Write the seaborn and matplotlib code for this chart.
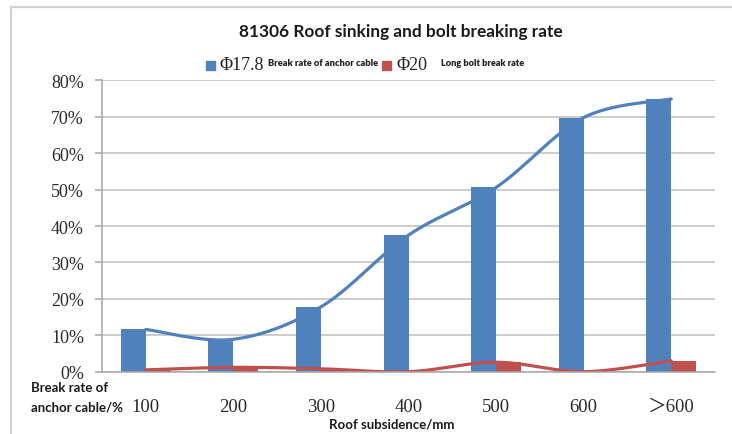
import numpy as np
import pandas as pd
import matplotlib
matplotlib.use("Agg")
import matplotlib.pyplot as plt
from matplotlib.patches import Rectangle
from matplotlib.ticker import FuncFormatter
import seaborn as sns

# Roof subsidence classes and break rates (%)
categories = ["100", "200", "300", "400", "500", "600", "\uff1e600"]
cable_break = [11.6, 8.9, 17.8, 37.5, 50.6, 69.8, 74.9]
bolt_break = [0.5, 1.2, 0.8, 0.0, 2.6, 0.0, 3.0]
series_names = ["cable", "bolt"]
y_ticks = [0, 10, 20, 30, 40, 50, 60, 70, 80]

BLUE = "#4F81BD"
RED = "#C0504D"

sns.set_theme(style="white")
plt.rcParams["font.family"] = ["Lato", "DejaVu Sans"]

df = pd.DataFrame({
    "subsidence": categories * 2,
    "rate": cable_break + bolt_break,
    "series": [series_names[0]] * len(categories) + [series_names[1]] * len(categories),
})

W, H = 732, 435
fig = plt.figure(figsize=(W / 100, H / 100), dpi=100)
ax = fig.add_axes([102 / W, 1 - 372.7 / H, (715 - 102) / W, (372.7 - 81.4) / H])


def smooth(xv, yv, n=40):
    """Bezier smoothing through every point (Catmull-Rom style)."""
    p = np.column_stack([xv, yv]).astype(float)
    ext = np.vstack([p[0], p, p[-1]])
    out = []
    t = np.linspace(0, 1, n)[:, None]
    for i in range(len(p) - 1):
        p0, p3 = ext[i + 1], ext[i + 2]
        c1 = p0 + (ext[i + 2] - ext[i]) / 6.0
        c2 = p3 - (ext[i + 3] - ext[i + 1]) / 6.0
        seg = ((1 - t) ** 3) * p0 + 3 * ((1 - t) ** 2) * t * c1 + 3 * (1 - t) * t ** 2 * c2 + t ** 3 * p3
        out.append(seg if i == 0 else seg[1:])
    out = np.vstack(out)
    return out[:, 0], out[:, 1]


sns.barplot(data=df, x="subsidence", y="rate", hue="series",
            palette=[BLUE, RED], width=0.57, gap=0, saturation=1,
            linewidth=0, legend=False, ax=ax)

xpos = np.arange(len(categories))
for vals, col in [(cable_break, BLUE), (bolt_break, RED)]:
    sx, sy = smooth(xpos, vals)
    sns.lineplot(x=sx, y=sy, sort=False, estimator=None, color=col,
                 linewidth=2.3, ax=ax)

ax.set_xlim(-0.5, len(categories) - 0.5)
ax.set_ylim(0, 80)
ax.set_yticks(y_ticks)
ax.yaxis.set_major_formatter(FuncFormatter(lambda v, _: f"{v:.0f}%"))
ax.grid(axis="y", color="#BEBEBE", linewidth=1.1)
ax.set_axisbelow(True)
for s in ["top", "right"]:
    ax.spines[s].set_visible(False)
for s in ["left", "bottom"]:
    ax.spines[s].set_color("#A6A6A6")
    ax.spines[s].set_linewidth(1.1)
ax.tick_params(axis="y", which="major", left=True, length=5, width=1.1,
               color="#A6A6A6", pad=8, labelsize=13, labelcolor="#2a2a2a")
ax.tick_params(axis="x", bottom=False, pad=13, labelsize=13.5, labelcolor="#2a2a2a")
for lab in ax.get_yticklabels() + ax.get_xticklabels():
    lab.set_family(["Liberation Serif", "Noto Sans CJK SC"])
ax.set_xlabel("")
ax.set_ylabel("")

# Outer chart frame
fig.patches.append(Rectangle((11 / W, -0.2), 1.2, 1.2 - 8 / H, transform=fig.transFigure,
                             fill=False, edgecolor="#D2D2D2", linewidth=1.6))

fig.text(401 / W, 1 - 32 / H, "81306 Roof sinking and bolt breaking rate",
         ha="center", va="center", fontsize=12.4, fontweight="bold", color="#1a1a1a")

# Legend
ly = 1 - 66 / H
for x0, col in [(206, BLUE), (382, RED)]:
    fig.patches.append(Rectangle((x0 / W, 1 - 70.5 / H), 9 / W, 9 / H,
                                 transform=fig.transFigure, color=col))
fig.text(220 / W, ly, "\u03a617.8", ha="left", va="center", fontsize=13,
         family=["Liberation Serif", "DejaVu Serif"], color="#222222")
fig.text(268 / W, ly + 0.006, "Break rate of anchor cable", ha="left", va="center",
         fontsize=6.7, fontweight="heavy", color="#222222")
fig.text(396 / W, ly, "\u03a620", ha="left", va="center", fontsize=13,
         family=["Liberation Serif", "DejaVu Serif"], color="#222222")
fig.text(441 / W, ly + 0.006, "Long bolt break rate", ha="left", va="center",
         fontsize=6.6, fontweight="heavy", color="#222222")

# Axis titles
fig.text(31 / W, 1 - 398 / H, "Break rate of\nanchor cable/%", ha="left", va="center",
         fontsize=9.5, fontweight="bold", color="#1a1a1a", linespacing=1.75)
fig.text(392 / W, 1 - 425 / H, "Roof subsidence/mm", ha="center", va="center",
         fontsize=9.5, fontweight="bold", color="#1a1a1a")

fig.savefig("out.png", dpi=100)
